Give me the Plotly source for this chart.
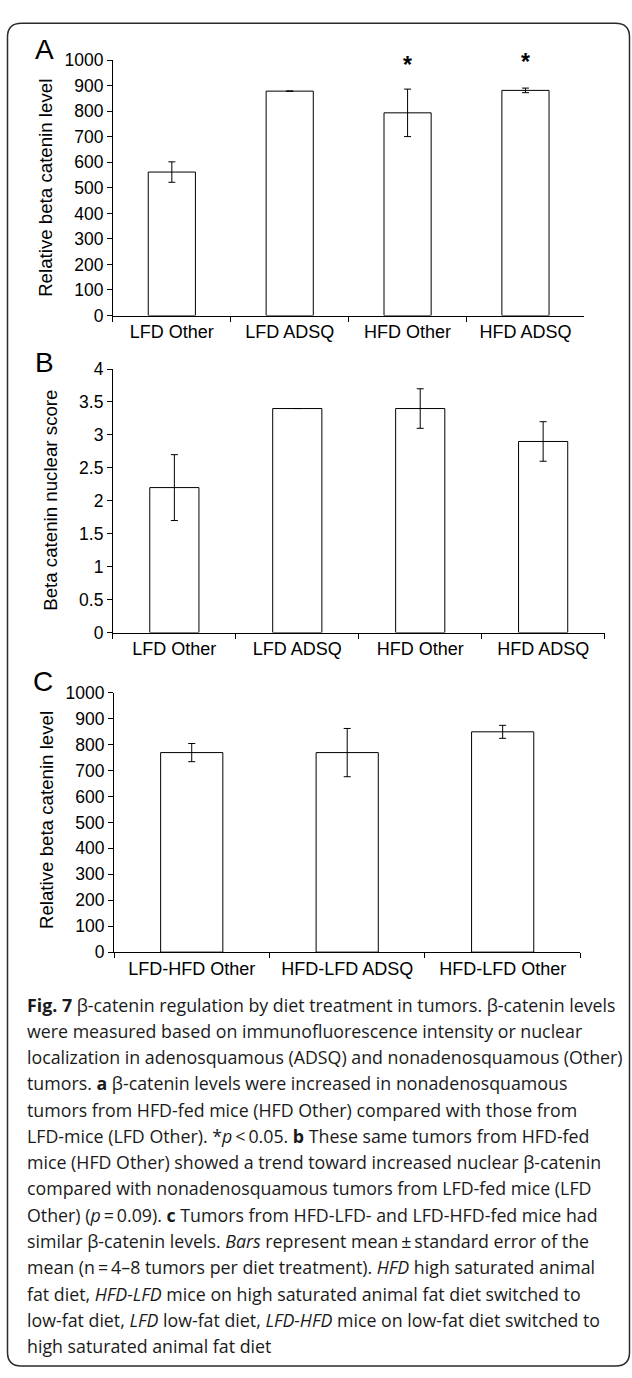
import plotly.graph_objects as go

# ---------------- data ----------------
A_categories = ["LFD Other", "LFD ADSQ", "HFD Other", "HFD ADSQ"]
A_values = [562, 879, 794, 882]
A_errors = [40, 0, 93, 9]
A_significance = ["", "", "*", "*"]

B_categories = ["LFD Other", "LFD ADSQ", "HFD Other", "HFD ADSQ"]
B_values = [2.2, 3.4, 3.4, 2.9]
B_errors = [0.5, 0, 0.3, 0.3]

C_categories = ["LFD-HFD Other", "HFD-LFD ADSQ", "HFD-LFD Other"]
C_values = [769, 769, 849]
C_errors = [35, 93, 25]

A_ticks = [0, 100, 200, 300, 400, 500, 600, 700, 800, 900, 1000]
B_ticks = [0, 0.5, 1, 1.5, 2, 2.5, 3, 3.5, 4]
B_ticklabels = ["0", "0.5", "1", "1.5", "2", "2.5", "3", "3.5", "4"]
C_ticks = [0, 100, 200, 300, 400, 500, 600, 700, 800, 900, 1000]

caption_lines = [
    "<b>Fig. 7</b> β-catenin regulation by diet treatment in tumors. β-catenin levels",
    "were measured based on immunofluorescence intensity or nuclear",
    "localization in adenosquamous (ADSQ) and nonadenosquamous (Other)",
    "tumors. <b>a</b> β-catenin levels were increased in nonadenosquamous",
    "tumors from HFD-fed mice (HFD Other) compared with those from",
    "LFD-mice (LFD Other). *<i>p</i>\u2009&lt;\u20090.05. <b>b</b> These same tumors from HFD-fed",
    "mice (HFD Other) showed a trend toward increased nuclear β-catenin",
    "compared with nonadenosquamous tumors from LFD-fed mice (LFD",
    "Other) (<i>p</i>\u2009=\u20090.09). <b>c</b> Tumors from HFD-LFD- and LFD-HFD-fed mice had",
    "similar β-catenin levels. <i>Bars</i> represent mean\u2009±\u2009standard error of the",
    "mean (n\u2009=\u20094–8 tumors per diet treatment). <i>HFD</i> high saturated animal",
    "fat diet, <i>HFD-LFD</i> mice on high saturated animal fat diet switched to",
    "low-fat diet, <i>LFD</i> low-fat diet, <i>LFD-HFD</i> mice on low-fat diet switched to",
    "high saturated animal fat diet",
]

# ---------------- layout helpers ----------------
W, H = 632, 1378
FONT = "Liberation Sans, Arial, sans-serif"
CAP_FONT = "Open Sans, Noto Sans, sans-serif"


def px(x):
    return x / W


def py(y):
    return 1 - y / H


fig = go.Figure()


def add_panel(idx, cats, vals, errs):
    fig.add_trace(go.Bar(
        x=cats, y=vals,
        xaxis="x" if idx == 1 else f"x{idx}",
        yaxis="y" if idx == 1 else f"y{idx}",
        marker=dict(color="white", line=dict(color="black", width=1)),
        error_y=dict(type="data", array=errs, visible=True,
                     color="black", thickness=1, width=3.5),
        showlegend=False, hoverinfo="skip",
    ))


add_panel(1, A_categories, A_values, A_errors)
add_panel(2, B_categories, B_values, B_errors)
add_panel(3, C_categories, C_values, C_errors)

xcommon = dict(type="category", showline=True, linecolor="black", linewidth=1,
               ticks="outside", ticklen=5, tickwidth=1, tickcolor="black",
               tickson="boundaries", showgrid=False, zeroline=False,
               tickfont=dict(family=FONT, size=18, color="black"))
ycommon = dict(showline=True, linecolor="black", linewidth=1,
               ticks="outside", ticklen=5, tickwidth=1, tickcolor="black",
               showgrid=False, zeroline=False,
               tickfont=dict(family=FONT, size=17.5, color="black"))

fig.update_layout(
    width=W, height=H,
    margin=dict(l=0, r=0, t=0, b=0),
    paper_bgcolor="white", plot_bgcolor="white",
    bargap=0.6,
    xaxis=dict(**xcommon, domain=[px(112.9), px(584.4)], range=[-0.5, 3.5], anchor="y"),
    yaxis=dict(**ycommon, domain=[py(310), py(51)], range=[0, 1000],
               tickvals=A_ticks, anchor="x"),
    xaxis2=dict(**xcommon, domain=[px(112.9), px(604.6)], range=[-0.5, 3.5], anchor="y2"),
    yaxis2=dict(**ycommon, domain=[py(631.7), py(364.3)], range=[0, 4],
                tickvals=B_ticks, ticktext=B_ticklabels, anchor="x2"),
    xaxis3=dict(**xcommon, domain=[px(114), px(580.4)], range=[-0.5, 2.5], anchor="y3"),
    yaxis3=dict(**ycommon, domain=[py(956), py(692.7)], range=[0, 1000],
                tickvals=C_ticks, anchor="x3"),
)

ann = []
# panel letters
for letter, (lx, ly) in zip(["A", "B", "C"], [(44, 40), (44, 358), (43, 681)]):
    ann.append(dict(text=letter, x=px(lx), y=py(ly), xref="paper", yref="paper",
                    xanchor="center", yanchor="middle", showarrow=False,
                    font=dict(family=FONT, size=28, color="black")))
# y-axis titles
for title, (tx, ty) in zip(["Relative beta catenin level", "Beta catenin nuclear score",
                            "Relative beta catenin level"],
                           [(45.5, 181), (50.5, 497.5), (46.5, 822.5)]):
    ann.append(dict(text=title, x=px(tx), y=py(ty), xref="paper", yref="paper",
                    xanchor="center", yanchor="middle", textangle=-90, showarrow=False,
                    font=dict(family=FONT, size=18.7, color="black")))
# significance stars
star_y_px = [None, None, 56, 52.5]
for cat, sig, sy in zip(A_categories, A_significance, star_y_px):
    if sig:
        ann.append(dict(text=f"<b>{sig}</b>", x=cat, xref="x", y=py(sy), yref="paper",
                        xanchor="center", yanchor="middle", showarrow=False,
                        font=dict(family=FONT, size=23, color="black")))
# caption
for i, line in enumerate(caption_lines):
    ann.append(dict(text=line, x=px(24.5), y=py(1009.3 + 26.65 * i),
                    xref="paper", yref="paper", xanchor="left", yanchor="middle",
                    showarrow=False, align="left",
                    font=dict(family=CAP_FONT, size=17.8, color="#1a1a1a")))
fig.update_layout(annotations=ann)

# rounded frame
x0, x1, y0, y1, r = 7.5, 629.5, 13.5, 1376, 14
path = (f"M {px(x0 + r)},{py(y0)} L {px(x1 - r)},{py(y0)} "
        f"Q {px(x1)},{py(y0)} {px(x1)},{py(y0 + r)} "
        f"L {px(x1)},{py(y1 - r)} Q {px(x1)},{py(y1)} {px(x1 - r)},{py(y1)} "
        f"L {px(x0 + r)},{py(y1)} Q {px(x0)},{py(y1)} {px(x0)},{py(y1 - r)} "
        f"L {px(x0)},{py(y0 + r)} Q {px(x0)},{py(y0)} {px(x0 + r)},{py(y0)} Z")
fig.add_shape(type="path", path=path, xref="paper", yref="paper",
              line=dict(color="#2a2a2a", width=1.5), fillcolor="rgba(0,0,0,0)")

fig.write_html("out.html",
               config={"displayModeBar": False},
               post_script="document.body.style.margin='0px';"
                           "document.body.style.overflow='hidden';")
